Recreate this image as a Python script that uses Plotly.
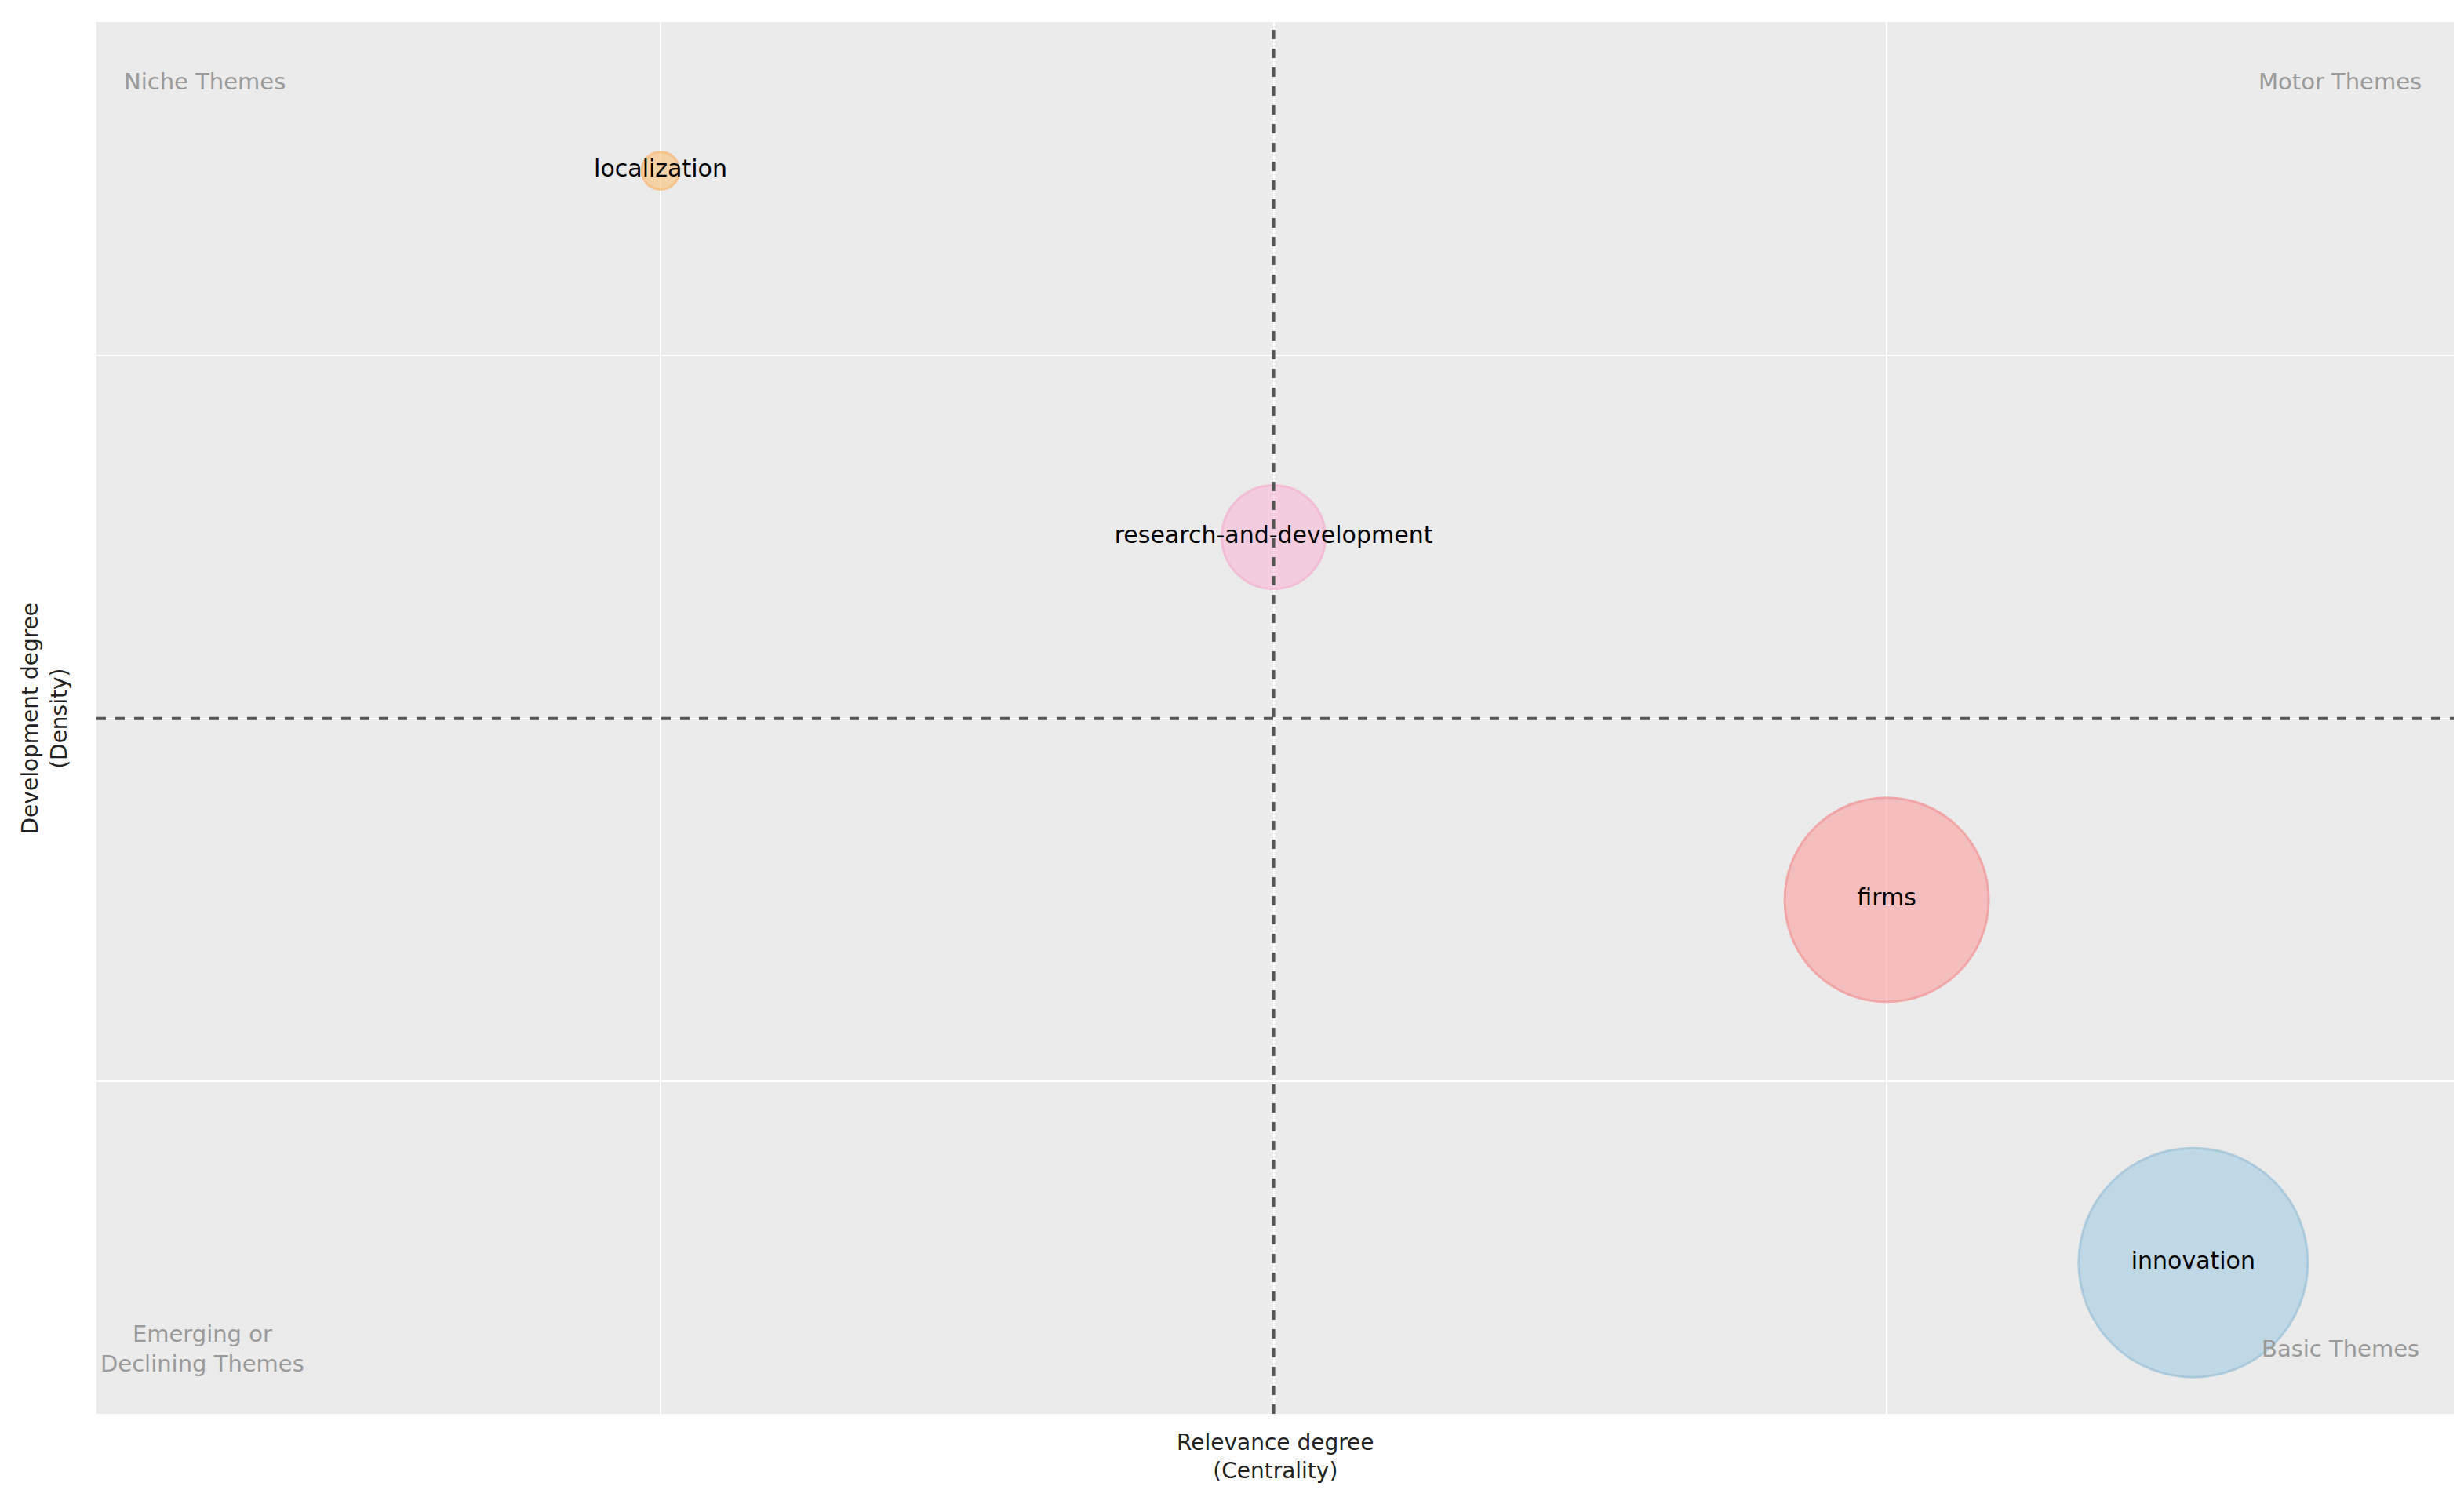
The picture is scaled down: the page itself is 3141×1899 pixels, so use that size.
import plotly.graph_objects as go

labels = ["localization", "research-and-development", "firms", "innovation"]
centrality = [1.0, 2.0, 3.0, 3.5]
density = [3.51, 2.50, 1.50, 0.50]
sizes = [48, 132, 260, 292]
colors = ["rgba(253,191,111,0.8)", "rgba(250,185,215,0.85)", "rgba(250,160,160,0.85)", "rgba(160,200,225,0.8)"]
borders = ["rgba(253,170,80,0.8)", "rgba(245,160,200,0.8)", "rgba(245,130,130,0.9)", "rgba(130,180,210,0.8)"]

fig = go.Figure()
fig.add_trace(go.Scatter(x=centrality, y=density, mode="markers+text", text=labels,
    textposition="middle center", textfont=dict(size=30, color="black", family="DejaVu Sans"),
    marker=dict(size=sizes, color=colors, line=dict(color=borders, width=3)), hoverinfo="text"))

fig.add_shape(type="line", x0=2, x1=2, y0=0, y1=1, yref="paper", line=dict(color="#555", width=4, dash="dash"))
fig.add_shape(type="line", y0=2, y1=2, x0=0, x1=1, xref="paper", line=dict(color="#555", width=4, dash="dash"))

gray = dict(size=29, color="#9a9a9a", family="DejaVu Sans")
fig.add_annotation(x=0.011, y=0.957, xref="paper", yref="paper", text="Niche Themes", showarrow=False, xanchor="left", yanchor="middle", font=gray)
fig.add_annotation(x=0.987, y=0.957, xref="paper", yref="paper", text="Motor Themes", showarrow=False, xanchor="right", yanchor="middle", font=gray)
fig.add_annotation(x=0.045, y=0.047, xref="paper", yref="paper", text="Emerging or<br>Declining Themes", showarrow=False, xanchor="center", yanchor="middle", font=gray)
fig.add_annotation(x=0.952, y=0.047, xref="paper", yref="paper", text="Basic Themes", showarrow=False, xanchor="center", yanchor="middle", font=gray)

dark = dict(size=28, color="#222", family="DejaVu Sans")
fig.add_annotation(x=0.5, y=-0.01, xref="paper", yref="paper", text="Relevance degree<br>(Centrality)", showarrow=False, yanchor="top", xanchor="center", font=dark)
fig.add_annotation(x=-0.01, y=0.5, xref="paper", yref="paper", text="Development degree<br>(Density)", showarrow=False, textangle=-90, xanchor="right", yanchor="middle", font=dark)

fig.update_xaxes(range=[0.08, 3.925], tickvals=[1, 2, 3], showticklabels=False, gridcolor="white", gridwidth=2, zeroline=False)
fig.update_yaxes(range=[0.083, 3.92], tickvals=[1, 2, 3], showticklabels=False, gridcolor="white", gridwidth=2, zeroline=False)
fig.update_layout(width=3141, height=1899, plot_bgcolor="#EBEBEB", paper_bgcolor="white",
    margin=dict(l=115, r=21, t=20, b=105), showlegend=False)
fig.write_html("out.html")
